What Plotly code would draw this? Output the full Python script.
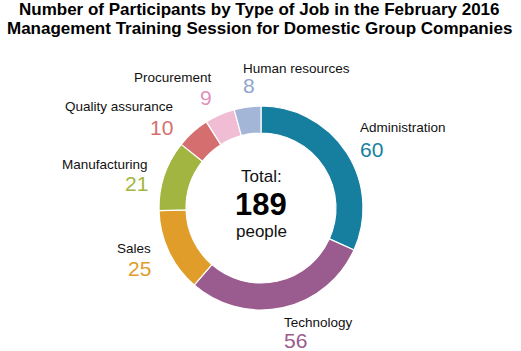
import plotly.graph_objects as go

W, H = 521, 351

categories = ["Administration", "Technology", "Sales", "Manufacturing",
              "Quality assurance", "Procurement", "Human resources"]
values = [60, 56, 25, 21, 10, 9, 8]
slice_colors = ["#167fa0", "#9a5b8e", "#e09d2a", "#a2b540", "#d56f6f", "#f0bdd4", "#a3b6d8"]
number_colors = ["#167fa0", "#9a5b8e", "#e09d2a", "#a2b540", "#d56f6f", "#e091ba", "#91a6cf"]

# label layout: (x px, label y px, number y px, anchor)
label_layout = [
    (358, 128, 149, "left"),
    (282, 322, 340, "left"),
    (153, 248, 268, "right"),
    (150, 164, 183, "right"),
    (175, 107, 127, "right"),
    (214, 77, 97, "right"),
    (241, 68, 86, "left"),
]

FONT = "Liberation Sans, Arial, Helvetica, sans-serif"

cx, cy, r = 261, 208, 102

fig = go.Figure(go.Pie(
    labels=categories,
    values=values,
    sort=False,
    direction="clockwise",
    rotation=0,
    hole=0.735,
    marker=dict(colors=slice_colors, line=dict(color="white", width=1.2)),
    textinfo="none",
    hoverinfo="label+value",
    showlegend=False,
    domain=dict(x=[(cx - r) / W, (cx + r) / W], y=[1 - (cy + r) / H, 1 - (cy - r) / H]),
))

ann = []
def px(x):
    return x / W
def py(y):
    return 1 - y / H

for cat, val, col, (x, ly, ny, anc) in zip(categories, values, number_colors, label_layout):
    ann.append(dict(x=px(x), y=py(ly), xref="paper", yref="paper", text=cat, showarrow=False,
                    xanchor=anc, yanchor="middle", font=dict(family=FONT, size=13.5, color="#111111")))
    ann.append(dict(x=px(x), y=py(ny), xref="paper", yref="paper", text=str(val), showarrow=False,
                    xanchor=anc, yanchor="middle", font=dict(family=FONT, size=21, color=col)))

total = sum(values)
ann.append(dict(x=px(cx), y=py(176), xref="paper", yref="paper", text="Total:", showarrow=False,
                xanchor="center", yanchor="middle", font=dict(family=FONT, size=17, color="#111111")))
ann.append(dict(x=px(cx), y=py(204), xref="paper", yref="paper", text="<b>%d</b>" % total, showarrow=False,
                xanchor="center", yanchor="middle", font=dict(family=FONT, size=31, color="#000000")))
ann.append(dict(x=px(cx), y=py(231), xref="paper", yref="paper", text="people", showarrow=False,
                xanchor="center", yanchor="middle", font=dict(family=FONT, size=17, color="#111111")))

title_lines = ["Number of Participants by Type of Job in the February 2016",
               "Management Training Session for Domestic Group Companies"]
for line, y in zip(title_lines, [10, 29]):
    ann.append(dict(x=px(259), y=py(y), xref="paper", yref="paper", text="<b>%s</b>" % line, showarrow=False,
                    xanchor="center", yanchor="middle", font=dict(family=FONT, size=17, color="#000000")))

fig.update_layout(
    width=W, height=H,
    margin=dict(l=0, r=0, t=0, b=0),
    paper_bgcolor="white", plot_bgcolor="white",
    annotations=ann,
)

fig.write_html("out.html")
